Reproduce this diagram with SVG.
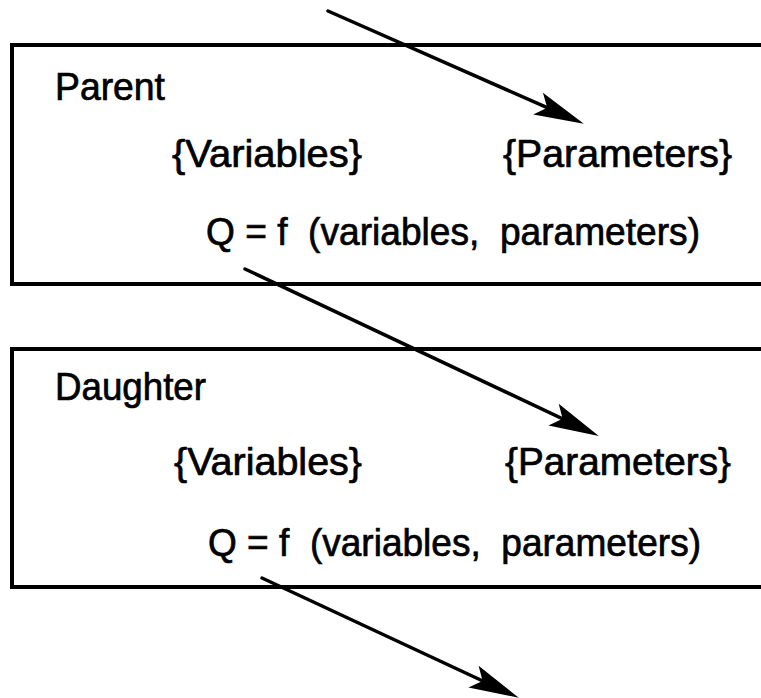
<svg xmlns="http://www.w3.org/2000/svg" width="761" height="698" viewBox="0 0 761 698">
  <style>
    .box { fill: none; stroke: #000; stroke-width: 4; }
    .lbl { font-family: "Liberation Sans", Arial, sans-serif; font-size: 38px; fill: #000; stroke: #000; stroke-width: 0.7; white-space: pre; }
    .conn { stroke: #000; stroke-width: 3.5; stroke-linecap: round; fill: none; marker-end: url(#head); }
  </style>
  <defs>
    <marker id="head" markerUnits="userSpaceOnUse" viewBox="0 0 50 26" markerWidth="50" markerHeight="26" refX="28" refY="13" orient="auto">
      <path d="M0,1 L50,13 L0,25 L10,13 Z" fill="#000"/>
    </marker>
  </defs>
  <rect width="761" height="698" fill="#fff"/>
  <g id="parent">
    <rect class="box" x="12" y="45" width="760" height="239"/>
    <text class="lbl" x="55" y="100" textLength="110" lengthAdjust="spacingAndGlyphs">Parent</text>
    <text class="lbl" x="172" y="167" textLength="190" lengthAdjust="spacingAndGlyphs">{Variables}</text>
    <text class="lbl" x="503" y="167" textLength="229" lengthAdjust="spacingAndGlyphs">{Parameters}</text>
    <text class="lbl" x="206" y="245" textLength="494" lengthAdjust="spacingAndGlyphs">Q = f  (variables,  parameters)</text>
  </g>
  <g id="daughter">
    <rect class="box" x="12" y="349" width="760" height="238"/>
    <text class="lbl" x="55" y="400" textLength="151" lengthAdjust="spacingAndGlyphs">Daughter</text>
    <text class="lbl" x="174" y="475" textLength="188" lengthAdjust="spacingAndGlyphs">{Variables}</text>
    <text class="lbl" x="505" y="475" textLength="226" lengthAdjust="spacingAndGlyphs">{Parameters}</text>
    <text class="lbl" x="208" y="556" textLength="493" lengthAdjust="spacingAndGlyphs">Q = f  (variables,  parameters)</text>
  </g>
  <g id="connectors">
    <line class="conn" x1="328" y1="11" x2="563.7" y2="114.9"/>
    <line class="conn" x1="245" y1="269" x2="578.9" y2="426.5"/>
    <line class="conn" x1="262" y1="578" x2="498.9" y2="688.5"/>
  </g>
</svg>
